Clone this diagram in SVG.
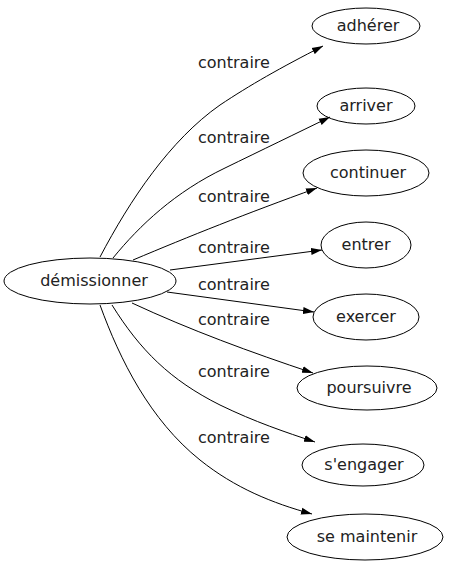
<svg xmlns="http://www.w3.org/2000/svg" width="450" height="563" viewBox="0 0 450 563">
<style>
  .node ellipse { fill: none; stroke: #000; stroke-width: 1; }
  text { font-family: "DejaVu Sans", sans-serif; font-size: 16px; fill: #222; }
  .node text { text-anchor: middle; }
  .edges path { fill: none; stroke: #000; stroke-width: 1; marker-end: url(#arrow); }
  .lbl { text-anchor: start; }
</style>
<defs>
  <marker id="arrow" markerUnits="userSpaceOnUse" markerWidth="12" markerHeight="8" refX="11" refY="4" orient="auto">
    <path d="M0,0.5 L11,4 L0,7.5 z" fill="#000"/>
  </marker>
</defs>
<rect width="450" height="563" fill="#fff"/>
<g class="edges">
  <path d="M100,257 C130,200 170,140 220,105 C250,85 280,68 323,46"/>
  <path d="M113,258 C140,225 175,192 225,168 C262,150 295,134 330,117"/>
  <path d="M133,260 C190,236 245,214 317,188"/>
  <path d="M170,270 L322,250"/>
  <path d="M167,292 L314,312"/>
  <path d="M132,303 C190,330 250,352 313,373"/>
  <path d="M112,305 C140,350 170,380 220,405 C255,422 285,432 315,442"/>
  <path d="M100,305 C120,360 150,420 200,460 C235,488 272,503 312,514"/>
  <text class="lbl" x="198" y="68">contraire</text>
  <text class="lbl" x="198" y="143">contraire</text>
  <text class="lbl" x="198" y="202">contraire</text>
  <text class="lbl" x="198" y="253">contraire</text>
  <text class="lbl" x="198" y="290">contraire</text>
  <text class="lbl" x="198" y="325">contraire</text>
  <text class="lbl" x="198" y="377">contraire</text>
  <text class="lbl" x="198" y="443">contraire</text>
</g>
<g class="node" id="demissionner"><ellipse cx="90" cy="281" rx="86" ry="23"/><text x="94" y="286">démissionner</text></g>
<g class="node" id="adherer"><ellipse cx="366" cy="26" rx="54" ry="18"/><text x="368" y="31">adhérer</text></g>
<g class="node" id="arriver"><ellipse cx="366" cy="106" rx="49" ry="18"/><text x="366" y="111">arriver</text></g>
<g class="node" id="continuer"><ellipse cx="366" cy="173" rx="63" ry="23"/><text x="368" y="178">continuer</text></g>
<g class="node" id="entrer"><ellipse cx="366" cy="245" rx="45" ry="23"/><text x="366" y="250">entrer</text></g>
<g class="node" id="exercer"><ellipse cx="366" cy="317" rx="53" ry="23"/><text x="366" y="322">exercer</text></g>
<g class="node" id="poursuivre"><ellipse cx="367" cy="388" rx="70" ry="22"/><text x="369" y="393">poursuivre</text></g>
<g class="node" id="sengager"><ellipse cx="363" cy="465" rx="61" ry="21"/><text x="364" y="470">s'engager</text></g>
<g class="node" id="semaintenir"><ellipse cx="365" cy="537" rx="78" ry="23"/><text x="367" y="542">se maintenir</text></g>
</svg>
